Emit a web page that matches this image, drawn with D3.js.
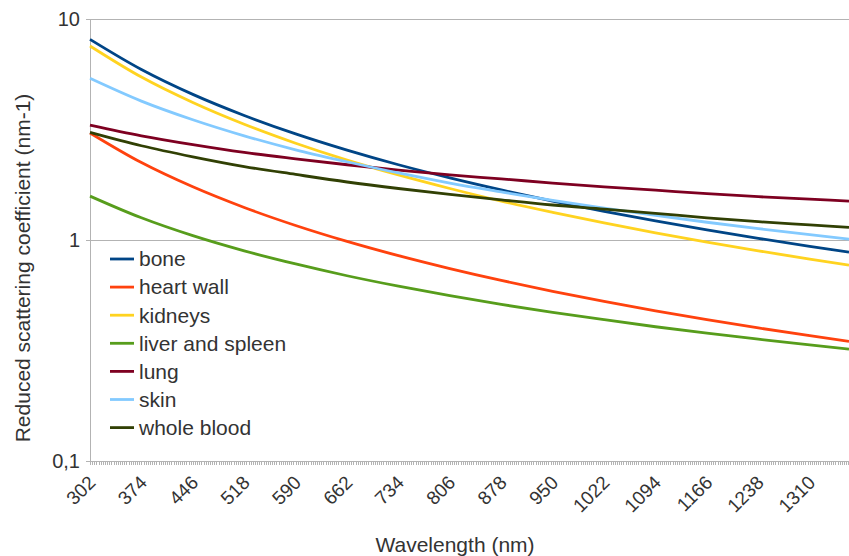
<!DOCTYPE html>
<html><head><meta charset="utf-8">
<script src="https://cdn.jsdelivr.net/npm/d3@7"></script>
<style>body{margin:0;background:#fff}svg{display:block;font-family:"Liberation Sans",Arial,sans-serif}</style>
</head><body><svg id="c" width="849" height="556"></svg>
<script>
const wavelengths = [302,374,446,518,590,662,734,806,878,950,1022,1094,1166,1238,1310,1365];
const tickLabels = [302,374,446,518,590,662,734,806,878,950,1022,1094,1166,1238,1310];
const bone        = [8.09,5.91,4.56,3.66,3.02,2.55,2.19,1.91,1.685,1.50,1.348,1.22,1.11,1.017,0.936,0.881];
const heartWall   = [3.05,2.24,1.74,1.403,1.163,0.985,0.849,0.742,0.656,0.586,0.527,0.478,0.436,0.400,0.369,0.348];
const kidneys     = [7.55,5.46,4.19,3.34,2.74,2.30,1.97,1.71,1.50,1.334,1.194,1.077,0.978,0.893,0.820,0.770];
const liverSpleen = [1.58,1.26,1.046,0.893,0.779,0.689,0.618,0.560,0.511,0.471,0.436,0.405,0.379,0.356,0.335,0.321];
const lung        = [3.31,2.96,2.70,2.49,2.33,2.19,2.07,1.97,1.89,1.81,1.74,1.68,1.62,1.57,1.53,1.50];
const skin        = [5.39,4.25,3.50,2.96,2.56,2.26,2.01,1.81,1.65,1.51,1.393,1.291,1.203,1.126,1.057,1.010];
const wholeBlood  = [3.07,2.67,2.38,2.15,1.98,1.83,1.71,1.61,1.52,1.44,1.38,1.32,1.26,1.21,1.17,1.14];
const seriesNames = ["bone","heart wall","kidneys","liver and spleen","lung","skin","whole blood"];
const seriesColors = ["#004586","#ff420e","#ffd320","#579d1c","#7e0021","#83caff","#314004"];
const yTicks = [10,1,0.1];
const yTickLabels = ["10","1","0,1"];

const series = [bone,heartWall,kidneys,liverSpleen,lung,skin,wholeBlood];
const svg = d3.select("#c");
const L=90,R=849,T=19,B=461;
const x = d3.scaleLinear().domain([302,1365]).range([L,R]);
const y = d3.scaleLog().domain([0.1,10]).range([B,T]);
const grid="#b3b3b3";

// gridlines
svg.append("g").selectAll("line").data(yTicks).join("line")
  .attr("x1",L-4).attr("x2",R).attr("y1",d=>y(d)).attr("y2",d=>y(d))
  .attr("stroke",grid).attr("stroke-width",1).attr("shape-rendering","crispEdges");
svg.append("line").attr("x1",L).attr("x2",L).attr("y1",T).attr("y2",B)
  .attr("stroke",grid).attr("shape-rendering","crispEdges");
// minor x ticks
const minor = d3.range(302,1366,3);
svg.append("g").selectAll("line").data(minor).join("line")
  .attr("x1",d=>Math.round(x(d))+0.5).attr("x2",d=>Math.round(x(d))+0.5)
  .attr("y1",B).attr("y2",B+4).attr("stroke",grid).attr("stroke-width",1);

// y labels
svg.append("g").selectAll("text").data(yTicks).join("text")
  .attr("x",L-10).attr("y",d=>y(d)).attr("dy","0.35em").attr("text-anchor","end")
  .attr("font-size",20).attr("fill","#333").text((d,i)=>yTickLabels[i]);
// x labels
svg.append("g").selectAll("text").data(tickLabels).join("text")
  .attr("transform",d=>`translate(${x(d)+2},${B+18}) rotate(-45)`)
  .attr("text-anchor","end").attr("dy","0.35em")
  .attr("font-size",19).attr("fill","#333").text(d=>d);

// lines
const line = d3.line().x((d,i)=>x(wavelengths[i])).y(d=>y(d)).curve(d3.curveMonotoneX);
svg.append("g").selectAll("path").data(series).join("path")
  .attr("d",d=>line(d)).attr("fill","none")
  .attr("stroke",(d,i)=>seriesColors[i]).attr("stroke-width",2.8);

// legend
const lg = svg.append("g").attr("transform","translate(110,259)");
seriesNames.forEach((n,i)=>{
  const g = lg.append("g").attr("transform",`translate(0,${i*28.1})`);
  g.append("line").attr("x1",0).attr("x2",24).attr("stroke",seriesColors[i]).attr("stroke-width",2.8);
  g.append("text").attr("x",29).attr("dy","0.35em").attr("font-size",21).attr("fill","#333").text(n);
});

// axis titles
svg.append("text").attr("x",455).attr("y",552).attr("text-anchor","middle")
  .attr("font-size",21).attr("fill","#333").text("Wavelength (nm)");
svg.append("text").attr("transform","translate(30,268) rotate(-90)").attr("text-anchor","middle")
  .attr("font-size",21).attr("fill","#333").text("Reduced scattering coefficient (nm-1)");
</script></body></html>
